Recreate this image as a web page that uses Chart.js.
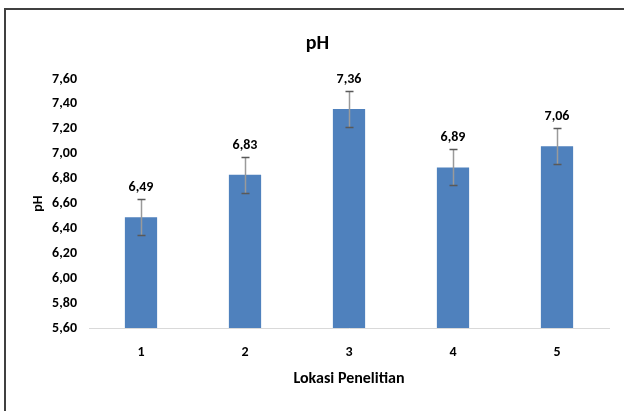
<!DOCTYPE html>
<html>
<head>
<meta charset="utf-8">
<script src="https://cdn.jsdelivr.net/npm/chart.js@4/dist/chart.umd.min.js"></script>
<style>
html,body{margin:0;padding:0;background:#fff;}
#wrap{position:relative;width:624px;height:411px;}
canvas{display:block;}
</style>
</head>
<body>
<div id="wrap"><canvas id="c" width="624" height="411"></canvas></div>
<script>
const categories = ["1", "2", "3", "4", "5"];
const phValues = [6.49, 6.83, 7.36, 6.89, 7.06];
const phErrors = [0.145, 0.145, 0.145, 0.145, 0.145];
const yTickMin = 5.6, yTickMax = 7.6, yTickStep = 0.2;

const FONT = 'Carlito, Lato, "Liberation Sans Narrow", sans-serif';
const fmt = v => v.toFixed(2).replace('.', ',');

const framePlugin = {
  id: 'frame',
  beforeDraw(chart) {
    const ctx = chart.ctx;
    ctx.save();
    ctx.fillStyle = '#fff';
    ctx.fillRect(0, 0, chart.width, chart.height);
    ctx.strokeStyle = '#404040';
    ctx.lineWidth = 2;
    ctx.beginPath();
    ctx.moveTo(5, chart.height);
    ctx.lineTo(5, 9);
    ctx.lineTo(chart.width, 9);
    ctx.stroke();
    ctx.restore();
  }
};

const errorPlugin = {
  id: 'errbars',
  afterDatasetsDraw(chart) {
    const ctx = chart.ctx;
    const y = chart.scales.y;
    const meta = chart.getDatasetMeta(0);
    ctx.save();
    meta.data.forEach((bar, i) => {
      const v = phValues[i], e = phErrors[i];
      const x = Math.round(bar.x) + 0.5;
      const yt = Math.round(y.getPixelForValue(v + e)) + 0.5;
      const yb = Math.round(y.getPixelForValue(v - e)) + 0.5;
      ctx.strokeStyle = '#9a9a9a';
      ctx.lineWidth = 1.5;
      ctx.beginPath();
      ctx.moveTo(x, yt); ctx.lineTo(x, yb);
      ctx.stroke();
      ctx.strokeStyle = '#595959';
      ctx.lineWidth = 1.5;
      ctx.beginPath();
      ctx.moveTo(x - 4, yt); ctx.lineTo(x + 4, yt);
      ctx.moveTo(x - 4, yb); ctx.lineTo(x + 4, yb);
      ctx.stroke();
      ctx.fillStyle = '#000';
      ctx.font = 'bold 14px ' + FONT;
      ctx.textAlign = 'center';
      ctx.textBaseline = 'alphabetic';
      ctx.fillText(fmt(v), bar.x, yt - 9);
    });
    ctx.restore();
  }
};

new Chart(document.getElementById('c'), {
  type: 'bar',
  data: {
    labels: categories,
    datasets: [{
      data: phValues,
      backgroundColor: '#4f81bd',
      borderWidth: 0,
      barPercentage: 0.62,
      categoryPercentage: 0.5
    }]
  },
  options: {
    responsive: false,
    animation: false,
    devicePixelRatio: 1,
    layout: { padding: { top: 24, right: 15, bottom: 22, left: 26 } },
    plugins: {
      legend: { display: false },
      tooltip: { enabled: false },
      title: {
        display: true,
        text: 'pH',
        color: '#000',
        font: { family: FONT, size: 20, weight: 'bold', lineHeight: 1.2 },
        padding: { top: 8, bottom: 23 }
      }
    },
    scales: {
      x: {
        afterFit(scale) { scale.height = 61; },
        grid: { display: false, drawTicks: false },
        border: { display: true, color: '#d9d9d9', width: 1 },
        ticks: { color: '#000', font: { family: FONT, size: 14, weight: 'bold', lineHeight: 1.2 }, padding: 16 },
        title: {
          display: true,
          text: 'Lokasi Penelitian',
          color: '#000',
          font: { family: FONT, size: 16, weight: 'bold', lineHeight: 1.2 },
          padding: { top: 10, bottom: 0 }
        }
      },
      y: {
        min: yTickMin,
        max: yTickMax,
        afterFit(scale) { scale.width = 63; },
        grid: { display: false, drawTicks: false },
        border: { display: false },
        ticks: {
          stepSize: yTickStep,
          color: '#000',
          font: { family: FONT, size: 14, weight: 'bold' },
          padding: 12,
          callback: v => fmt(v)
        },
        title: {
          display: true,
          text: 'pH',
          color: '#000',
          font: { family: FONT, size: 14, weight: 'bold', lineHeight: 1.2 },
          padding: { top: 4, bottom: 0 }
        }
      }
    }
  },
  plugins: [framePlugin, errorPlugin]
});
</script>
</body>
</html>
